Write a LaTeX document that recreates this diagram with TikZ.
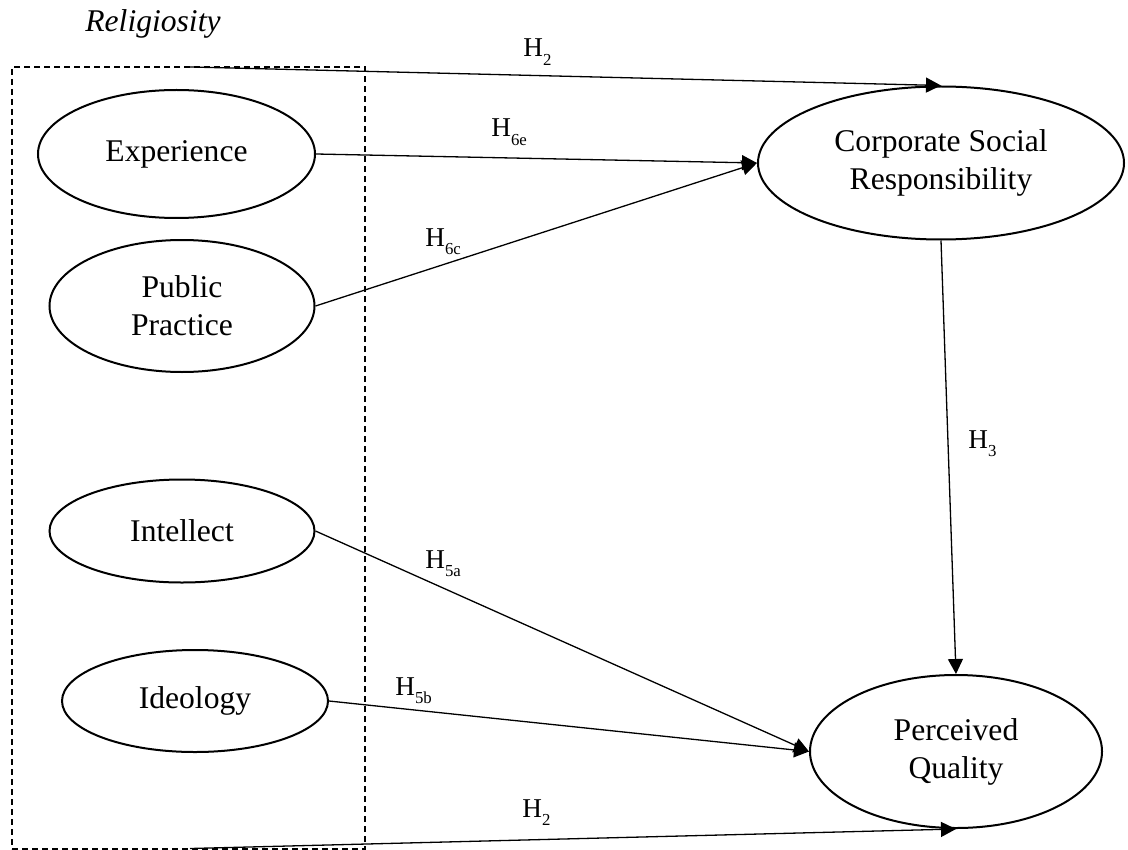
\documentclass[tikz,border=0pt]{standalone}
\usepackage{fontspec}
\setmainfont{Liberation Serif}
\usetikzlibrary{arrows.meta, shapes.geometric}

\newcommand{\hyp}[1]{{\fontsize{13.6}{15}\selectfont H\raisebox{-4.2pt}{\fontsize{8.4}{9}\selectfont #1}}}

\tikzset{
  construct/.style={draw, ellipse, line width=1pt, inner sep=0pt, align=center,
    font=\fontsize{15.8}{19}\selectfont},
  link/.style={line width=0.65pt, -{Triangle[length=7.5pt, width=7.5pt]}},
  relbox/.style={draw, dashed, line width=0.65pt, dash pattern=on 3pt off 2pt,
    inner sep=0pt},
  hyplabel/.style={anchor=base west, inner sep=0pt}
}

\begin{document}
\begin{tikzpicture}[x=0.5pt, y=-0.5pt]
        \useasboundingbox (0,0) rectangle (1128,850);
        % religiosity dimensions
        \node[anchor=base west, inner sep=0pt, font=\fontsize{15.8}{19}\selectfont\itshape] (reltitle) at (85,32) {Religiosity};
        \node[relbox, minimum width=176.5pt, minimum height=391pt] (rel) at (188.5,458) {};
        \coordinate (h2from) at (190,67);
        \coordinate (h2fromb) at (190,848.5);
        \node[construct, minimum width=138.5pt, minimum height=64pt] (exp) at (176.5,154) {Experience};
        \node[construct, minimum width=132.5pt, minimum height=66pt] (pub) at (182,306) {Public\\Practice};
        \node[construct, minimum width=132.5pt, minimum height=51.5pt] (int) at (182,531) {Intellect};
        \node[construct, minimum width=133pt, minimum height=51pt] (ideo) at (195,701) {Ideology};
        % outcomes
        \node[construct, minimum width=183pt, minimum height=76.5pt] (csr) at (941,163) {Corporate Social\\Responsibility};
        \node[construct, minimum width=146pt, minimum height=76.5pt] (pq) at (956,751.5) {Perceived\\Quality};
        % paths
        \draw[link] (h2from) -- (csr.north);
        \draw[link] (exp.east) -- (csr.west);
        \draw[link] (pub.east) -- (csr.west);
        \draw[link] (csr.south) -- (pq.north);
        \draw[link] (int.east) -- (pq.west);
        \draw[link] (ideo.east) -- (pq.west);
        \draw[link] (h2fromb) -- (pq.south);
        % hypotheses
        \node[hyplabel] (h2a) at (523,57) {\hyp{2}};
        \node[hyplabel] (h6e) at (491,137) {\hyp{6e}};
        \node[hyplabel] (h6c) at (425,246) {\hyp{6c}};
        \node[hyplabel] (h3) at (968,448) {\hyp{3}};
        \node[hyplabel] (h5a) at (425,568) {\hyp{5a}};
        \node[hyplabel] (h5b) at (395,695) {\hyp{5b}};
        \node[hyplabel] (h2b) at (522,817) {\hyp{2}};
      \end{tikzpicture}
\end{document}
